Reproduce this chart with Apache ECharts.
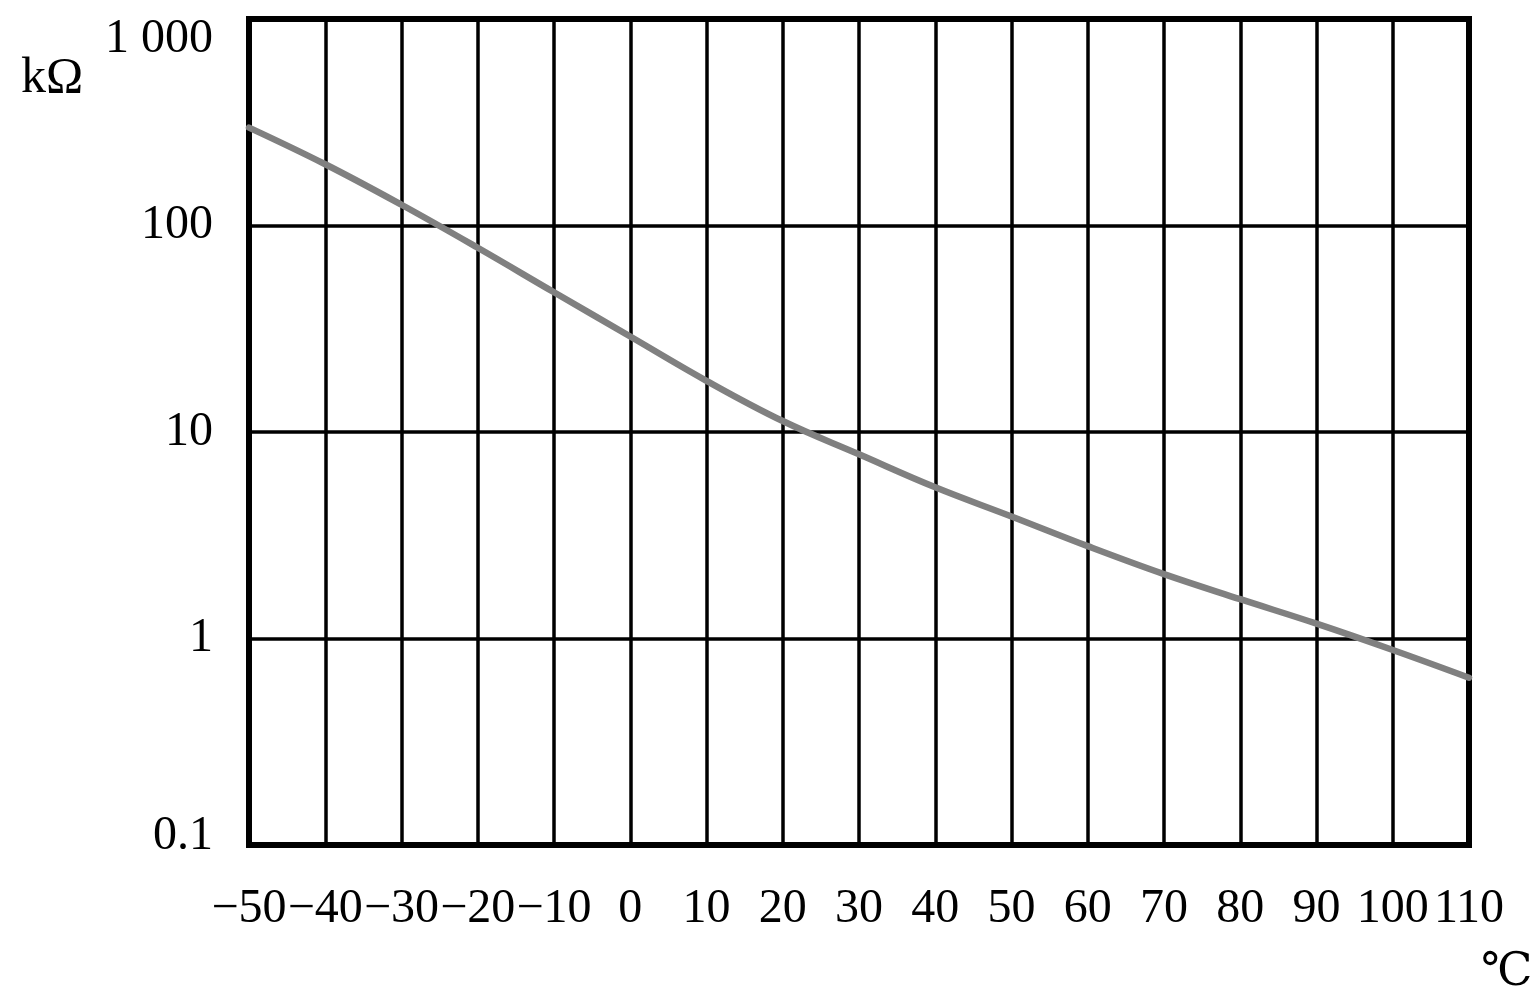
<!DOCTYPE html>
<html>
<head>
<meta charset="utf-8">
<script src="https://cdn.jsdelivr.net/npm/echarts@6/dist/echarts.min.js"></script>
<style>
html,body{margin:0;padding:0;background:#fff;}
#chart{width:1536px;height:999px;}
</style>
</head>
<body>
<div id="chart"></div>
<script>
const temperatures = [-50, -40, -30, -20, -10, 0, 10, 20, 30, 40, 50, 60, 70, 80, 90, 100, 110];
const resistanceK = [298, 198, 126, 78, 47.5, 29, 17.7, 11.3, 7.8, 5.4, 3.9, 2.8, 2.05, 1.55, 1.18, 0.88, 0.646];
const yTickLabels = { "0.1": "0.1", "1": "1", "10": "10", "100": "100", "1000": "1 000" };
const yUnit = "kΩ";
const xUnit = "℃";

const FONT = '"Liberation Serif", "DejaVu Serif", serif';
const FS = 48;
const chart = echarts.init(document.getElementById('chart'), null, { renderer: 'canvas' });

const option = {
  backgroundColor: '#ffffff',
  animation: false,
  grid: {
    left: 249, right: 67, top: 19, bottom: 154,
    show: true, borderColor: '#000', borderWidth: 6, backgroundColor: 'transparent'
  },
  xAxis: {
    type: 'value',
    min: -50, max: 110, interval: 10,
    axisLine: { show: false },
    axisTick: { show: false },
    splitLine: { show: true, lineStyle: { color: '#000', width: 3.5 } },
    axisLabel: {
      margin: 40,
      fontFamily: FONT, fontSize: FS, color: '#000',
      formatter: v => String(v).replace('-', '\u2212')
    }
  },
  yAxis: {
    type: 'log', logBase: 10,
    min: 0.1, max: 1000,
    axisLine: { show: false },
    axisTick: { show: false },
    splitLine: { show: true, lineStyle: { color: '#000', width: 3.5 } },
    axisLabel: {
      margin: 36,
      fontFamily: FONT, fontSize: FS, color: '#000',
      formatter: v => {
        const key = String(+Number(v).toPrecision(3));
        const txt = yTickLabels[key] !== undefined ? yTickLabels[key] : key;
        if (key === '1000') return '{top|' + txt + '}';
        if (key === '0.1') return '{bot|' + txt + '}';
        return txt;
      },
      rich: {
        top: { fontFamily: FONT, fontSize: FS, color: '#000', padding: [40, 0, 0, 0] },
        bot: { fontFamily: FONT, fontSize: FS, color: '#000', padding: [0, 0, 18, 0] }
      }
    }
  },
  series: [{
    type: 'line',
    data: temperatures.map((t, i) => [t, resistanceK[i]]),
    smooth: 0.4,
    showSymbol: false,
    lineStyle: { color: '#808080', width: 6.5, cap: 'round' },
    z: 10
  }],
  graphic: [
    { type: 'text', left: 21, top: 54, style: { text: yUnit, font: '50px ' + FONT, fill: '#000' } },
    { type: 'text', left: 1481, top: 950, style: { text: xUnit, font: '46px ' + FONT, fill: '#000' } }
  ]
};
chart.setOption(option);
</script>
</body>
</html>
